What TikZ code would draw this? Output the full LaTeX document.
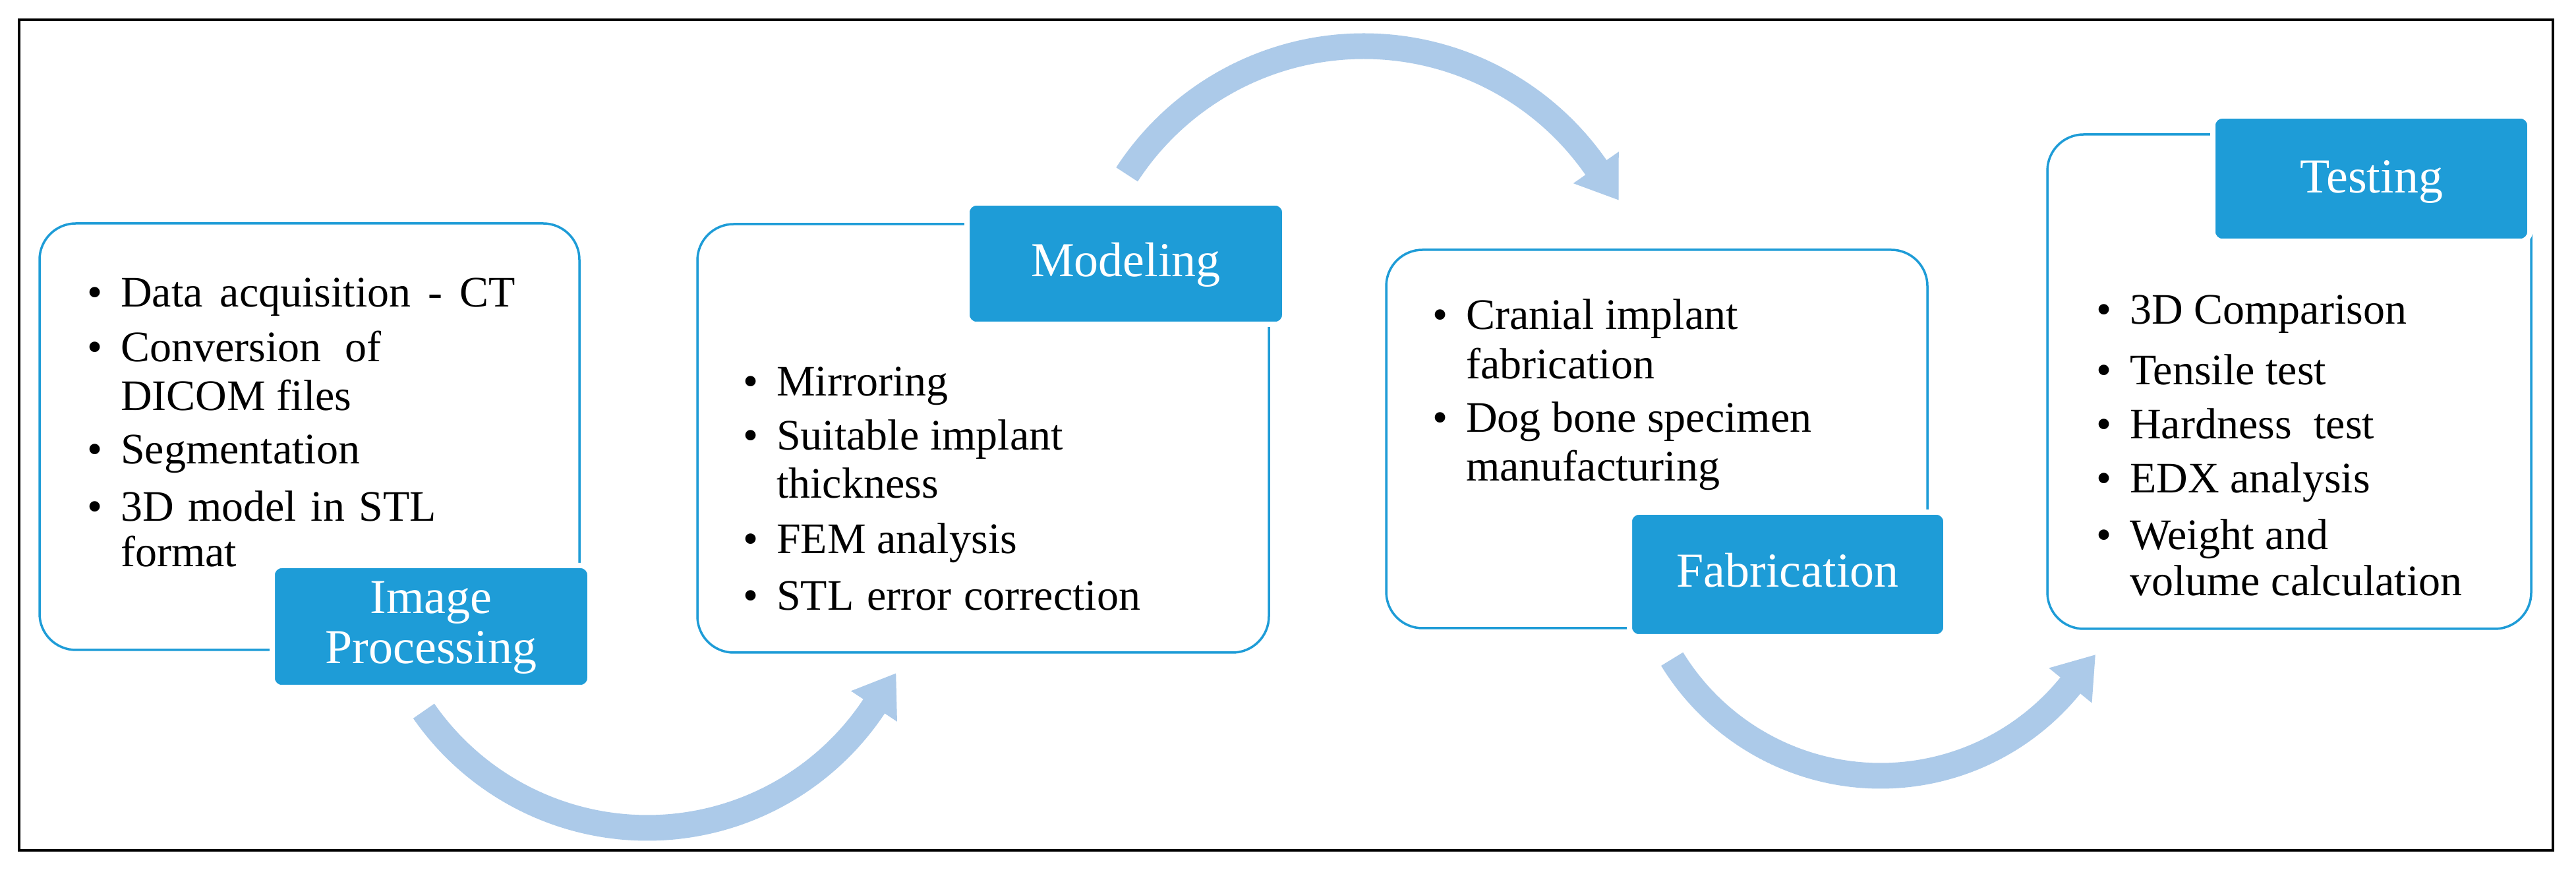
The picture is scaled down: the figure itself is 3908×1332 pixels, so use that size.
\documentclass[tikz,border=0pt]{standalone}
\usepackage{fontspec}
\setmainfont{Liberation Serif}
\usetikzlibrary{calc}
\definecolor{lblue}{RGB}{30,156,215}
\definecolor{arrowblue}{RGB}{172,202,233}
\newcommand\bul{\llap{\char"2022\hspace{28pt}}}
\begin{document}
\begin{tikzpicture}[x=1pt,y=1pt,
  box/.style={draw=lblue,line width=3.5pt,rounded corners=55pt,fill=white,inner sep=0pt,outer sep=0pt},
  lab/.style={draw=white,line width=8pt,fill=lblue,rounded corners=14pt,inner sep=0pt,outer sep=0pt},
  labtxt/.style={anchor=base,inner sep=0pt,text=white,font=\fontsize{74}{80}\selectfont},
  txt/.style={anchor=base west,inner sep=0pt,font=\fontsize{66}{78}\selectfont},
  arrowfill/.style={fill=arrowblue}]
\useasboundingbox (0,0) rectangle (3908,1332);
\fill[white] (0,0) rectangle (3908,1332);
\draw[line width=4.5pt] (29,42) rectangle (3873,1302);

% arrows
\coordinate (c1) at (982,489);
\coordinate (c2) at (2069,833);
\coordinate (c3) at (2853,526);
\fill[arrowfill] ($(c1)+(214.8:432.5)$) arc[start angle=214.8,end angle=326.4,radius=432.5]
  -- ($(c1)+(326.4:455)$) -- ($(c1)+(326.4:413)+(56.4:60)$) -- ($(c1)+(326.4:371)$)
  -- ($(c1)+(326.4:393.5)$) arc[start angle=326.4,end angle=214.8,radius=393.5] -- cycle;
\fill[arrowfill] ($(c2)+(146.9:448.5)$) arc[start angle=146.9,end angle=34.8,radius=448.5]
  -- ($(c2)+(34.8:471)$) -- ($(c2)+(34.8:429)+(-55.2:60)$) -- ($(c2)+(34.8:387)$)
  -- ($(c2)+(34.8:409.5)$) arc[start angle=34.8,end angle=146.9,radius=409.5] -- cycle;
\fill[arrowfill] ($(c3)+(211.5:390.5)$) arc[start angle=211.5,end angle=320.9,radius=390.5]
  -- ($(c3)+(320.9:413)$) -- ($(c3)+(320.9:371)+(50.9:60)$) -- ($(c3)+(320.9:329)$)
  -- ($(c3)+(320.9:351.5)$) arc[start angle=320.9,end angle=211.5,radius=351.5] -- cycle;

% boxes
\node[box,minimum width=819pt,minimum height=647pt] (box1) at (469.5,669.5) {};
\node[box,minimum width=867pt,minimum height=650pt] (box2) at (1491.5,667) {};
\node[box,minimum width=821pt,minimum height=574pt] (box3) at (2513.5,666) {};
\node[box,minimum width=734pt,minimum height=750pt] (box4) at (3473,753) {};

% labels
\node[lab,minimum width=482pt,minimum height=185pt] (lab1) at (654,381.5) {};
\node[lab,minimum width=482pt,minimum height=184pt] (lab2) at (1708,932) {};
\node[lab,minimum width=480pt,minimum height=189pt] (lab3) at (2712,460.5) {};
\node[lab,minimum width=481pt,minimum height=190pt] (lab4) at (3597.5,1061) {};
\node[labtxt] (lt1a) at (654,401) {Image};
\node[labtxt] (lt1b) at (654,325) {Processing};
\node[labtxt] (lt2) at (1708,912) {Modeling};
\node[labtxt] (lt3) at (2712,441) {Fabrication};
\node[labtxt] (lt4) at (3597.5,1039) {Testing};

% box 1 text
\node[txt] (t1a) at (183,866) {\bul\makebox[599pt][s]{Data acquisition - CT}};
\node[txt] (t1b) at (183,783) {\bul\makebox[395pt][s]{Conversion of}};
\node[txt] (t1c) at (183,709) {DICOM files};
\node[txt] (t1d) at (183,628) {\bul Segmentation};
\node[txt] (t1e) at (183,541) {\bul\makebox[479pt][s]{3D model in STL}};
\node[txt] (t1f) at (183,472) {format};

% box 2 text
\node[txt] (t2a) at (1178,731) {\bul Mirroring};
\node[txt] (t2b) at (1178,649) {\bul Suitable implant};
\node[txt] (t2c) at (1178,576) {thickness};
\node[txt] (t2d) at (1178,492) {\bul FEM analysis};
\node[txt] (t2e) at (1178,406) {\bul\makebox[552pt][s]{STL error correction}};

% box 3 text
\node[txt] (t3a) at (2224,832) {\bul Cranial implant};
\node[txt] (t3b) at (2224,757) {fabrication};
\node[txt] (t3c) at (2224,676) {\bul Dog bone specimen};
\node[txt] (t3d) at (2224,602) {manufacturing};

% box 4 text
\node[txt] (t4a) at (3231,840) {\bul 3D Comparison};
\node[txt] (t4b) at (3231,748) {\bul Tensile test};
\node[txt] (t4c) at (3231,666) {\bul\makebox[371pt][s]{Hardness test}};
\node[txt] (t4d) at (3231,584) {\bul EDX analysis};
\node[txt] (t4e) at (3231,498) {\bul Weight and};
\node[txt] (t4f) at (3231,428) {volume calculation};
\end{tikzpicture}
\end{document}
